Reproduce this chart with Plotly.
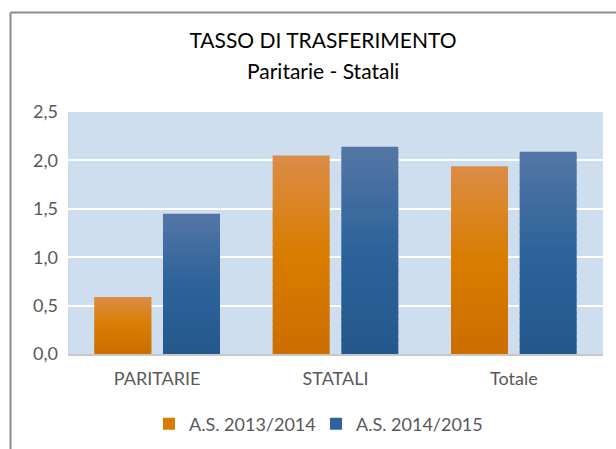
import plotly.graph_objects as go

categories = ["PARITARIE", "STATALI", "Totale"]
series_names = ["A.S. 2013/2014", "A.S. 2014/2015"]
values_2013 = [0.59, 2.05, 1.94]
values_2014 = [1.45, 2.14, 2.09]
y_ticks = [0.0, 0.5, 1.0, 1.5, 2.0, 2.5]

# gradient stops: bottom, middle, top
orange_stops = [(204, 110, 0), (217, 124, 0), (219, 141, 72)]
blue_stops = [(36, 88, 140), (45, 99, 154), (84, 118, 165)]

N = 30
OVERLAP = 0.012


def interp(stops, t):
    if t <= 0.5:
        a, b, f = stops[0], stops[1], t / 0.5
    else:
        a, b, f = stops[1], stops[2], (t - 0.5) / 0.5
    c = [round(a[k] + (b[k] - a[k]) * f) for k in range(3)]
    return "rgb({},{},{})".format(*c)


fig = go.Figure()
font_family = "Lato, 'Open Sans', sans-serif"

for name, vals, stops, grp in [
    (series_names[0], values_2013, orange_stops, "a"),
    (series_names[1], values_2014, blue_stops, "b"),
]:
    for i in range(N):
        t = (i + 0.5) / N
        bases = [v * i / N for v in vals]
        heights = [
            v * (i + 1) / N - v * i / N + (OVERLAP if i < N - 1 else 0)
            for v in vals
        ]
        fig.add_trace(
            go.Bar(
                x=categories,
                y=heights,
                base=bases,
                name=name,
                offsetgroup=grp,
                legendgroup=grp,
                showlegend=(i == N // 2),
                marker=dict(color=interp(stops, t), line=dict(width=0)),
                hoverinfo="skip",
            )
        )

fig.update_layout(
    width=616,
    height=449,
    barmode="group",
    bargap=0.23,
    bargroupgap=0.17,
    separators=",.",
    paper_bgcolor="white",
    plot_bgcolor="#cfdeef",
    margin=dict(l=68, r=13, t=112, b=95, autoexpand=False),
    font=dict(family=font_family, color="#595959", size=18),
    title=dict(
        text="TASSO DI TRASFERIMENTO",
        font=dict(family=font_family, color="black", size=21),
        x=323 / 616,
        xref="container",
        xanchor="center",
        y=1 - 41 / 449,
        yref="container",
        yanchor="middle",
    ),
    annotations=[
        dict(
            text="Paritarie - Statali",
            xref="paper",
            yref="paper",
            x=(323 - 68) / 535,
            y=(354 - 70.5) / 242,
            xanchor="center",
            yanchor="middle",
            showarrow=False,
            font=dict(family=font_family, color="black", size=21),
        )
    ],
    legend=dict(
        orientation="h",
        x=(316 - 68) / 535,
        xanchor="center",
        y=(354 - 424) / 242,
        yanchor="middle",
        font=dict(size=18, color="#595959"),
        entrywidth=122,
        entrywidthmode="pixels",
        bgcolor="rgba(0,0,0,0)",
    ),
    xaxis=dict(
        automargin=False,
        showgrid=False,
        showline=True,
        linecolor="#c8c8c8",
        linewidth=1.5,
        ticks="",
        tickfont=dict(size=18, color="#595959"),
        ticklabelstandoff=8,
    ),
    yaxis=dict(
        automargin=False,
        range=[0, 2.5],
        tickvals=y_ticks,
        tickformat=".1f",
        showgrid=True,
        gridcolor="white",
        gridwidth=2,
        zeroline=False,
        showline=False,
        ticks="",
        ticklabelstandoff=9,
        tickfont=dict(size=18, color="#595959"),
    ),
    shapes=[
        dict(
            type="line",
            xref="paper",
            yref="paper",
            x0=(10.5 - 68) / 535,
            x1=(10.5 - 68) / 535,
            y0=(354 - 12.5) / 242,
            y1=(354 - 460) / 242,
            line=dict(color="#8c8c8c", width=2),
        ),
        dict(
            type="line",
            xref="paper",
            yref="paper",
            x0=(10.5 - 68) / 535,
            x1=(630 - 68) / 535,
            y0=(354 - 12.5) / 242,
            y1=(354 - 12.5) / 242,
            line=dict(color="#8c8c8c", width=2),
        ),
    ],
)

fig.write_html(
    "out.html",
    config={"displayModeBar": False, "staticPlot": True},
    post_script="document.body.style.margin='0';document.body.style.overflow='hidden';",
)
